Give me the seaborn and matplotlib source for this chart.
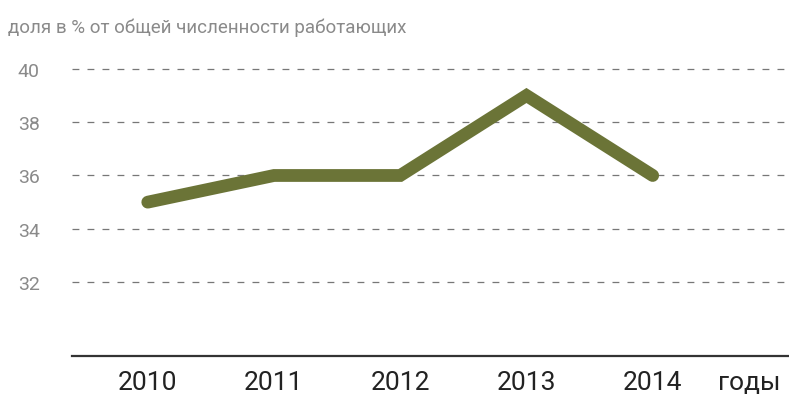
import pandas as pd
import matplotlib.pyplot as plt
import seaborn as sns

# Data
years = [2010, 2011, 2012, 2013, 2014]
share = [35, 36, 36, 39, 36]
y_ticks = [32, 34, 36, 38, 40]

df = pd.DataFrame({"year": years, "share": share})

sns.set_style("white")
plt.rcParams["font.family"] = ["Roboto", "DejaVu Sans"]

fig = plt.figure(figsize=(7.89, 4.06), dpi=100)
ax = fig.add_axes([0.0913, 0.1207, 0.9087, 0.727])

sns.lineplot(data=df, x="year", y="share", ax=ax, color="#6b7437",
             linewidth=9.2, solid_capstyle="round", solid_joinstyle="miter")

ax.set_xlim(2009.40, 2015.08)
ax.set_ylim(29.23, 40.3)
ax.set_xticks(years)
ax.set_xticklabels([str(y) for y in years], fontsize=19, color="#222222")
ax.set_yticks(y_ticks)
ax.set_yticklabels([str(t) for t in y_ticks], fontsize=14, color="#8a8a8a")
ax.tick_params(axis="x", length=0, pad=10)
ax.tick_params(axis="y", length=0, pad=39, labelleft=True)
for lab in ax.get_yticklabels():
    lab.set_horizontalalignment("left")

ax.yaxis.grid(True, color="#777777", linewidth=0.9, linestyle=(0, (5.5, 6.5)))
ax.xaxis.grid(False)
ax.set_axisbelow(True)

for side in ["top", "right", "left"]:
    ax.spines[side].set_visible(False)
ax.spines["bottom"].set_color("#333333")
ax.spines["bottom"].set_linewidth(1.6)

ax.set_xlabel("")
ax.set_ylabel("")

ax.text(2014.52, -0.047, "годы", transform=ax.get_xaxis_transform(),
        fontsize=19, color="#222222", ha="left", va="top")

fig.text(0.010, 0.932, "доля в % от общей численности работающих",
         fontsize=13.5, color="#8a8a8a", ha="left", va="center")

fig.savefig("out.png", dpi=100)
